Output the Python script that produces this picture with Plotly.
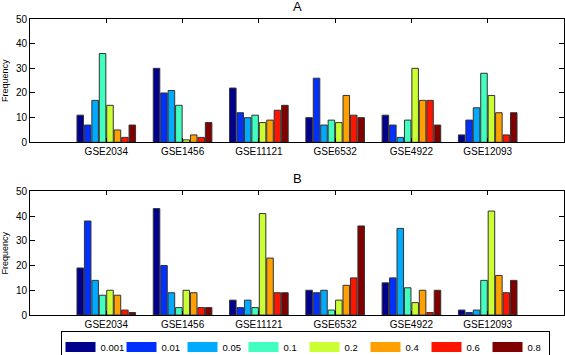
import plotly.graph_objects as go
from plotly.subplots import make_subplots

datasets = ["GSE2034", "GSE1456", "GSE11121", "GSE6532", "GSE4922", "GSE12093"]
thresholds = ["0.001", "0.01", "0.05", "0.1", "0.2", "0.4", "0.6", "0.8"]

# Panel A: rows = threshold, columns = dataset
freq_a = [
    [11, 30, 22, 10, 11, 3],
    [7, 20, 12, 26, 7, 9],
    [17, 21, 10, 7, 2, 14],
    [36, 15, 11, 9, 9, 28],
    [15, 1, 8, 8, 30, 19],
    [5, 3, 9, 19, 17, 12],
    [2, 2, 13, 11, 17, 3],
    [7, 8, 15, 10, 7, 12],
]
# Panel B
freq_b = [
    [19, 43, 6, 10, 13, 2],
    [38, 20, 3, 9, 15, 1],
    [14, 9, 6, 10, 35, 2],
    [8, 3, 3, 2, 11, 14],
    [10, 10, 41, 6, 5, 42],
    [8, 9, 23, 12, 10, 16],
    [2, 3, 9, 15, 1, 9],
    [1, 3, 9, 36, 10, 14],
]

colors = ["#00008C", "#0030FF", "#00AAFF", "#40FFC0", "#CCFF33", "#FFA000", "#FF1400", "#800000"]

fig = make_subplots(rows=2, cols=1)

for i, t in enumerate(thresholds):
    fig.add_trace(go.Bar(x=datasets, y=freq_a[i], name=t, legendgroup=t,
                         marker=dict(color=colors[i], line=dict(color="#333333", width=1)),
                         showlegend=False), row=1, col=1)
    fig.add_trace(go.Bar(x=datasets, y=freq_b[i], name=t, legendgroup=t,
                         marker=dict(color=colors[i], line=dict(color="#333333", width=1)),
                         showlegend=False), row=2, col=1)

# legend entries with wide swatches (no data drawn)
for i, t in enumerate(thresholds):
    fig.add_trace(go.Scatter(x=[None], y=[None], mode="lines", name=t, legendgroup=t,
                             line=dict(color=colors[i], width=11), showlegend=True,
                             hoverinfo="skip"), row=1, col=1)

font = "Liberation Sans, Arial, Helvetica, sans-serif"
xcommon = dict(type="category", range=[-1, 6], showline=True, linecolor="black", linewidth=1,
               mirror="ticks", ticks="inside", ticklen=4, tickcolor="black", automargin=False,
               tickfont=dict(size=10, color="black", family=font), showgrid=False, zeroline=False)
ycommon = dict(range=[0, 50], dtick=10, showline=True, linecolor="black", linewidth=1,
               mirror="ticks", ticks="inside", ticklen=5, tickcolor="black", automargin=False,
               tickfont=dict(size=10, color="black", family=font), showgrid=False, zeroline=False,
               title=dict(text="Frequency", font=dict(size=9, color="black", family=font)))

fig.update_layout(
    width=565, height=355,
    margin=dict(l=30, r=1, t=19, b=40, autoexpand=False),
    paper_bgcolor="white", plot_bgcolor="white",
    barmode="group", bargap=0.22, bargroupgap=0.12,
    font=dict(family=font, size=10, color="black"),
    xaxis=dict(**xcommon, domain=[0, 1], anchor="y"),
    yaxis=dict(**ycommon, domain=[0.5834, 1], anchor="x"),
    xaxis2=dict(**xcommon, domain=[0, 1], anchor="y2"),
    yaxis2=dict(**ycommon, domain=[0, 0.4179], anchor="x2"),
    legend=dict(orientation="h", x=0.515, xanchor="center", y=-0.108, yanchor="middle",
                bordercolor="black", borderwidth=1, bgcolor="white",
                font=dict(size=9.5, color="black", family=font),
                entrywidth=16, entrywidthmode="pixels", itemclick=False,
                tracegroupgap=0, itemsizing="trace"),
    annotations=[
        dict(text="A", x=0.5, y=1, xref="paper", yref="paper", xanchor="center", yanchor="bottom",
             yshift=3, showarrow=False, font=dict(size=13, color="black", family=font)),
        dict(text="B", x=0.5, y=0.4179, xref="paper", yref="paper", xanchor="center", yanchor="bottom",
             yshift=3, showarrow=False, font=dict(size=13, color="black", family=font)),
    ],
)

fig.write_html("out.html", config={"displayModeBar": False},
               post_script="document.body.style.margin='0px';document.body.style.padding='0px';")
